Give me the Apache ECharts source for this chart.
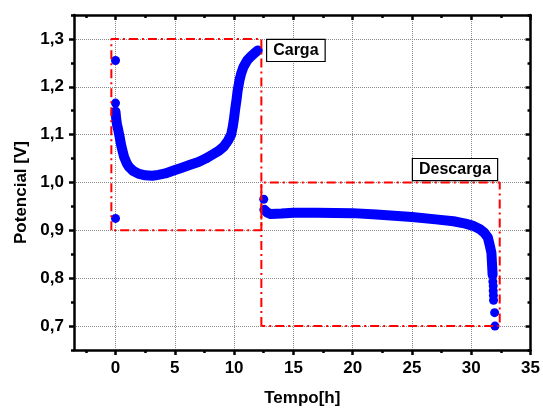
<!DOCTYPE html>
<html><head><meta charset="utf-8">
<script src="https://cdn.jsdelivr.net/npm/echarts@6/dist/echarts.min.js"></script>
<style>html,body{margin:0;padding:0;background:#fff}#c{width:543px;height:412px}</style>
</head><body><div id="c"></div>
<script>
// ---- data ----
const xMajorTicks = [0, 5, 10, 15, 20, 25, 30, 35];
const xMinorTicks = [-2.5, 2.5, 7.5, 12.5, 17.5, 22.5, 27.5, 32.5];
const yMajorTicks = [0.7, 0.8, 0.9, 1.0, 1.1, 1.2, 1.3];
const yMinorTicks = [0.65, 0.75, 0.85, 0.95, 1.05, 1.15, 1.25, 1.35];

const chargeCurve = [[0.0,1.148],[0.05,1.135],[0.12,1.122],[0.23,1.110],[0.35,1.095],[0.5,1.075],[0.73,1.053],[0.95,1.040],[1.15,1.032],[1.5,1.024],[2.0,1.018],[2.5,1.015],[3.1,1.014],[3.6,1.016],[4.2,1.019],[4.9,1.025],[5.6,1.031],[6.3,1.037],[7.0,1.043],[7.6,1.050],[8.15,1.058],[8.7,1.066],[9.13,1.075],[9.5,1.088],[9.75,1.100],[9.9,1.118],[10.0,1.135],[10.1,1.155],[10.2,1.172],[10.3,1.192],[10.45,1.213],[10.6,1.228],[10.8,1.242],[11.1,1.255],[11.4,1.263],[11.7,1.270],[12.0,1.276]];
const chargeIsolated = [[0,1.255],[0,1.166],[0,0.925]];
const dischargeCurve = [[12.55,0.943],[12.8,0.937],[13.1,0.934],[14,0.935],[15,0.937],[17,0.937],[20,0.936],[22,0.933],[25,0.928],[27,0.923],[28.5,0.919],[29.5,0.914],[30.1,0.910],[30.7,0.903],[31.1,0.895],[31.4,0.885],[31.55,0.870],[31.7,0.853],[31.76,0.826],[31.8,0.807]];
const dischargeIsolated = [[12.5,0.965],[31.82,0.793],[31.85,0.784],[31.85,0.774],[31.87,0.764],[31.88,0.754],[31.97,0.728],[32.0,0.700]];
const chargeBox = [[-0.35,0.9],[-0.35,1.3],[12.3,1.3],[12.3,0.9],[-0.35,0.9]];
const dischargeBox = [[12.3,0.7],[12.3,1.0],[32.4,1.0],[32.4,0.7],[12.3,0.7]];
const annotations = [{text:'Carga', pos:[15.21,1.276]},{text:'Descarga', pos:[28.63,1.027]}];
const xName = 'Tempo[h]';
const yName = 'Potencial [V]';

// ---- chart ----
const FONT = "'Liberation Sans', Arial, sans-serif";
const chart = echarts.init(document.getElementById('c'));
const blue = '#0000ff';
const comma = v => Number(v).toFixed(1).replace('.', ',');

function xAx(pos, values, len, inside, show) {
  return {
    type:'value', min:-3.5, max:35, position:pos,
    axisLine:{show:show, onZero:false, lineStyle:{color:'#000', width:2.5}},
    axisTick:{show:true, inside:inside, length:len, customValues:values, lineStyle:{color:'#000', width:2.5}},
    axisLabel:{show:false},
    splitLine:{show:false}
  };
}
function yAx(pos, values, len, inside, show) {
  return {
    type:'value', min:0.65, max:1.35, position:pos,
    axisLine:{show:show, onZero:false, lineStyle:{color:'#000', width:2.5}},
    axisTick:{show:true, inside:inside, length:len, customValues:values, lineStyle:{color:'#000', width:2.5}},
    axisLabel:{show:false},
    splitLine:{show:false}
  };
}

const mainX = {
  type:'value', min:-3.5, max:35, position:'bottom',
  name:xName, nameLocation:'middle', nameGap:40,
  nameTextStyle:{fontFamily:FONT, fontWeight:'bold', fontSize:17, color:'#000'},
  axisLine:{show:true, onZero:false, lineStyle:{color:'#000', width:2.5}},
  axisTick:{show:true, inside:false, length:5, customValues:xMajorTicks, lineStyle:{color:'#000', width:2.5}},
  axisLabel:{show:true, customValues:xMajorTicks, margin:10, fontFamily:FONT, fontWeight:'bold', fontSize:17, color:'#000', formatter:v=>String(v)},
  splitLine:{show:true, lineStyle:{color:'#8a8a8a', type:'dotted', width:1}}
};
const mainY = {
  type:'value', min:0.65, max:1.35, position:'left',
  name:yName, nameLocation:'middle', nameGap:44,
  nameTextStyle:{fontFamily:FONT, fontWeight:'bold', fontSize:17, color:'#000', padding:[0,0,0,-20]},
  axisLine:{show:true, onZero:false, lineStyle:{color:'#000', width:2.5}},
  axisTick:{show:true, inside:false, length:5, customValues:yMajorTicks, lineStyle:{color:'#000', width:2.5}},
  axisLabel:{show:true, customValues:yMajorTicks, margin:10, fontFamily:FONT, fontWeight:'bold', fontSize:17, color:'#000', formatter:comma},
  splitLine:{show:true, lineStyle:{color:'#8a8a8a', type:'dotted', width:1}}
};

const boxStyle = {color:'#ff0000', width:2, type:[9,4,2,4]};

chart.setOption({
  animation:false,
  backgroundColor:'#fff',
  grid:{left:74, top:15, right:10, bottom:58, containLabel:false},
  xAxis:[mainX, xAx('bottom', xMinorTicks, 3, false, false), xAx('top', xMajorTicks, 5, true, true), xAx('top', xMinorTicks, 3, true, false)],
  yAxis:[mainY, yAx('left', yMinorTicks, 3, false, false), yAx('right', yMajorTicks, 5, true, true), yAx('right', yMinorTicks, 3, true, false)],
  series:[
    {type:'line', data:chargeCurve, showSymbol:false, symbol:'none', lineStyle:{color:blue, width:10, cap:'round', join:'round'}, z:3},
    {type:'line', data:dischargeCurve, showSymbol:false, symbol:'none', lineStyle:{color:blue, width:10, cap:'round', join:'round'}, z:3},
    {type:'scatter', data:chargeIsolated.concat(dischargeIsolated), symbol:'circle', symbolSize:9, itemStyle:{color:blue, opacity:1}, z:3},
    {type:'line', data:chargeBox, symbol:'none', lineStyle:boxStyle, z:4},
    {type:'line', data:dischargeBox, symbol:'none', lineStyle:boxStyle, z:4},
    {type:'scatter', data:annotations.map(a=>({value:a.pos, name:a.text})), symbolSize:0, z:5,
     itemStyle:{opacity:1, color:'#000'},
     label:{show:true, position:'inside', formatter:p=>p.name, fontFamily:FONT, fontWeight:'bold', fontSize:16, color:'#000',
            textBorderWidth:0, opacity:1,
            backgroundColor:'#fff', borderColor:'#000', borderWidth:1.2, padding:[3,6,2,6]}}
  ]
});
</script></body></html>
